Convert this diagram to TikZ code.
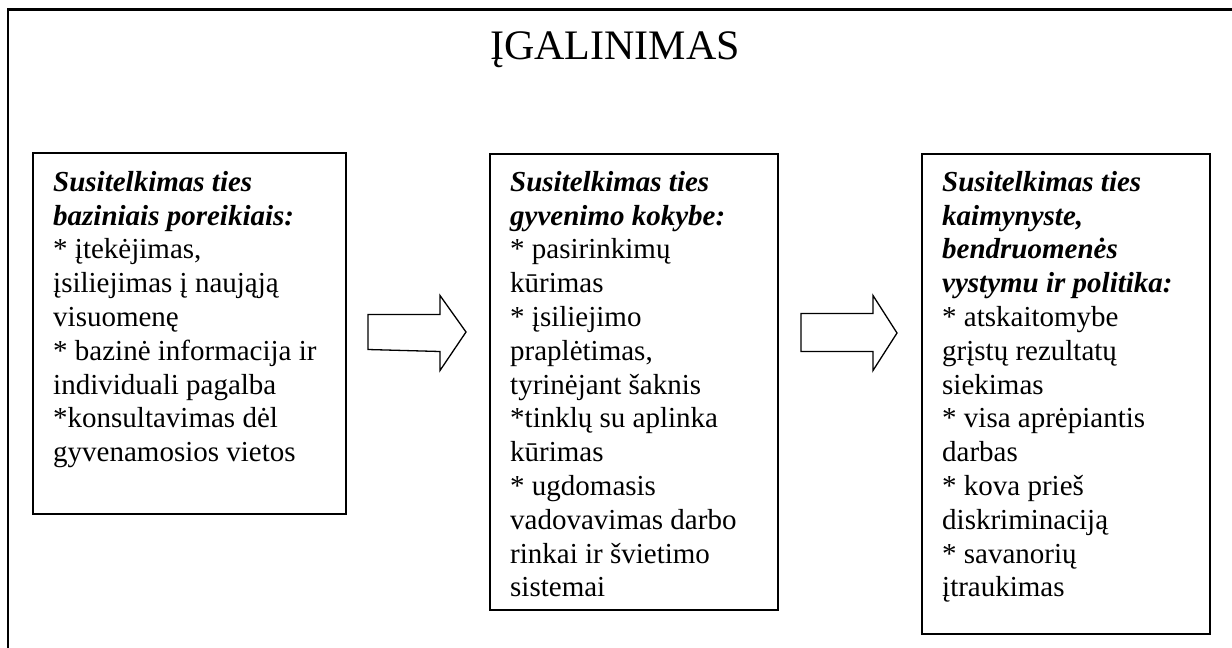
\documentclass[tikz,border=0pt]{standalone}
\usepackage{fontspec}
\setmainfont{Liberation Serif}
\begin{document}
\begin{tikzpicture}[x=1pt,y=-1pt,
  frame/.style={draw=black,line width=2.4pt},
  stagebox/.style={draw=black,line width=2.2pt,rectangle,anchor=north west,inner sep=0pt},
  stagetext/.style={anchor=north west,align=left,inner sep=0pt,font=\fontsize{29}{33.8}\selectfont},
  head/.style={font=\bfseries\itshape},
  blockarrow/.style={draw=black,line width=1.3pt,fill=white,line join=miter}]
\useasboundingbox (0,0) rectangle (1232,648);
\begin{scope}
\clip (0,0) rectangle (1232,648);
\draw[frame] (8,9.5) rectangle (1260,680);
\end{scope}
\node[anchor=base,inner sep=0pt,font=\fontsize{42}{48}\selectfont] (title) at (615,59) {ĮGALINIMAS};
% boxes
\node[stagebox,minimum width=313pt,minimum height=361pt] (b1) at (32,152) {};
\node[stagebox,minimum width=288pt,minimum height=456pt] (b2) at (489,153) {};
\node[stagebox,minimum width=288pt,minimum height=480pt] (b3) at (921,153) {};
% texts
\node[stagetext] (t1) at (53,165) {\rule{0pt}{26pt}{\bfseries\itshape Susitelkimas ties}\\
{\bfseries\itshape baziniais poreikiais:}\\
* įtekėjimas,\\
įsiliejimas į naująją\\
visuomenę\\
* bazinė informacija ir\\
individuali pagalba\\
*konsultavimas dėl\\
gyvenamosios vietos};
\node[stagetext] (t2) at (510,165) {\rule{0pt}{26pt}{\bfseries\itshape Susitelkimas ties}\\
{\bfseries\itshape gyvenimo kokybe:}\\
* pasirinkimų\\
kūrimas\\
* įsiliejimo\\
praplėtimas,\\
tyrinėjant šaknis\\
*tinklų su aplinka\\
kūrimas\\
* ugdomasis\\
vadovavimas darbo\\
rinkai ir švietimo\\
sistemai};
\node[stagetext] (t3) at (942,165) {\rule{0pt}{26pt}{\bfseries\itshape Susitelkimas ties}\\
{\bfseries\itshape kaimynyste,}\\
{\bfseries\itshape bendruomenės}\\
{\bfseries\itshape vystymu ir politika:}\\
* atskaitomybe\\
grįstų rezultatų\\
siekimas\\
* visa aprėpiantis\\
darbas\\
* kova prieš\\
diskriminaciją\\
* savanorių\\
įtraukimas};
% block arrows
\coordinate (a1) at (368,332);
\coordinate (a2) at (801,332);
\draw[blockarrow] (a1) ++(0,-17.5) -- ++(72,0) -- ++(0,-19) -- (466,332) -- (440,370.5) -- ++(0,-19) -- (368,349.5) -- cycle;
\draw[blockarrow] (a2) ++(0,-18.5) -- ++(72,0) -- ++(0,-18) -- (897,333) -- (873,370.5) -- ++(0,-19) -- (801,351.5) -- cycle;
\end{tikzpicture}
\end{document}
